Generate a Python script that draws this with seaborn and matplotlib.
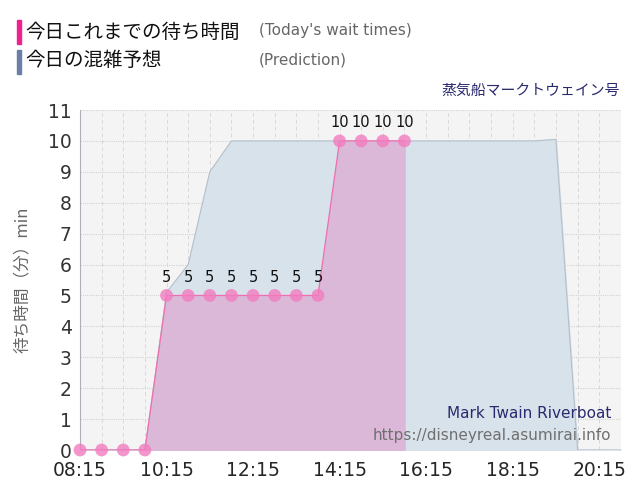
import numpy as np
import pandas as pd
import seaborn as sns
import matplotlib.pyplot as plt

# observed wait times (every 30 min)
times = ["08:15", "08:45", "09:15", "09:45", "10:15", "10:45", "11:15", "11:45",
         "12:15", "12:45", "13:15", "13:45", "14:15", "14:45", "15:15", "15:45"]
waits = [0, 0, 0, 0, 5, 5, 5, 5, 5, 5, 5, 5, 10, 10, 10, 10]

# predicted wait times
pred_times = ["08:15", "08:45", "09:15", "09:45", "10:15", "10:45", "11:15", "11:45",
              "12:15", "12:45", "13:15", "13:45", "14:15", "14:45", "15:15", "15:45",
              "16:15", "16:45", "17:15", "17:45", "18:15", "18:45", "19:15", "19:45",
              "20:15", "20:45"]
pred_waits = [0, 0, 0, 0, 5.1, 6, 9, 10, 10, 10, 10, 10, 10, 10, 10, 10,
              10, 10, 10, 10, 10, 10, 10.05, 0, 0, 0]

xtick_labels = ["08:15", "10:15", "12:15", "14:15", "16:15", "18:15", "20:15"]


def to_hours(t):
    h, m = t.split(":")
    return int(h) + int(m) / 60


df = pd.DataFrame({"t": [to_hours(t) for t in times], "wait": waits})
dp = pd.DataFrame({"t": [to_hours(t) for t in pred_times], "wait": pred_waits})

sns.set_style("white")
plt.rcParams["font.family"] = ["Noto Sans CJK JP", "DejaVu Sans"]

fig = plt.figure(figsize=(6.4, 5), dpi=100)
ax = fig.add_axes([0.125, 0.1, 0.845, 0.68])
ax.set_facecolor("#f4f4f4")

# prediction area
ax.fill_between(dp["t"], dp["wait"], color="#d8e2ea", zorder=2)
sns.lineplot(data=dp, x="t", y="wait", ax=ax, color="#b4bfca", lw=0.8, zorder=3)

# today's area + points
ax.fill_between(df["t"], df["wait"], color="#dbb8d8", zorder=4)
ax.vlines(df["t"].iloc[-1], 0, df["wait"].iloc[-1], color="#dbb8d8", lw=1, zorder=4)
sns.lineplot(data=df, x="t", y="wait", ax=ax, color="#ee6fb0", lw=0.9, zorder=5)
sns.scatterplot(data=df, x="t", y="wait", ax=ax, color="#f27cbf", s=85,
                alpha=0.8, edgecolor="none", zorder=6, clip_on=False)
for t, w in zip(df["t"], df["wait"]):
    if w > 0:
        ax.text(t, w + 0.35, str(w), ha="center", va="bottom", fontsize=10.5,
                color="#111111", family="DejaVu Sans", zorder=7)

x0, x1 = to_hours("08:15"), to_hours("20:45")
ax.set_xlim(x0, x1)
ax.set_ylim(0, 11)
ax.set_xticks([to_hours(t) for t in xtick_labels])
ax.set_xticklabels(xtick_labels, fontsize=13.5, family="DejaVu Sans")
ax.set_xticks(np.arange(x0, x1 + 0.01, 0.5), minor=True)
ax.set_yticks(range(0, 12))
ax.set_yticklabels([str(v) for v in range(0, 12)], fontsize=13.5,
                   family="DejaVu Sans", color="#333333")
ax.tick_params(axis="both", length=0)
ax.tick_params(axis="y", pad=6)
ax.tick_params(axis="x", pad=8)
ax.grid(axis="y", which="major", color="#d4d4d4", ls=(0, (1, 1)), lw=0.8, zorder=1)
ax.grid(axis="x", which="both", color="#d9d9d9", ls=(0, (4, 3)), lw=0.7, zorder=1)
ax.set_axisbelow(True)
for s in ["top", "right", "bottom"]:
    ax.spines[s].set_visible(False)
ax.spines["left"].set_color("#b0b0b8")
ax.spines["left"].set_linewidth(0.8)
ax.set_xlabel("")
ax.set_ylabel("待ち時間（分）min", fontsize=12, color="#666666", labelpad=12)

# legend
fig.patches.append(plt.Rectangle((17 / 640, 1 - 44 / 500), 4 / 640, 24 / 500,
                                 transform=fig.transFigure, color="#f0208f"))
fig.patches.append(plt.Rectangle((17 / 640, 1 - 74 / 500), 4 / 640, 24 / 500,
                                 transform=fig.transFigure, color="#6a7fa8"))
fig.text(25 / 640, 1 - 32 / 500, "今日これまでの待ち時間", fontsize=14,
         va="center", color="#111111")
fig.text(259 / 640, 1 - 31 / 500, "(Today's wait times)", fontsize=11,
         va="center", color="#666666", family="DejaVu Sans")
fig.text(25 / 640, 1 - 61 / 500, "今日の混雑予想", fontsize=14,
         va="center", color="#111111")
fig.text(259 / 640, 1 - 60 / 500, "(Prediction)", fontsize=11,
         va="center", color="#666666", family="DejaVu Sans")
fig.text(620 / 640, 1 - 91 / 500, "蒸気船マークトウェイン号", fontsize=10.7,
         ha="right", va="center", color="#2a2a70")

# watermark
ax.text(0.982, 0.106, "Mark Twain Riverboat", transform=ax.transAxes,
        ha="right", va="center", fontsize=11, color="#2a2a70",
        family="DejaVu Sans", zorder=8)
ax.text(0.982, 0.044, "https://disneyreal.asumirai.info", transform=ax.transAxes,
        ha="right", va="center", fontsize=11, color="#707070",
        family="DejaVu Sans", zorder=8)

fig.savefig("out.png", dpi=100)
